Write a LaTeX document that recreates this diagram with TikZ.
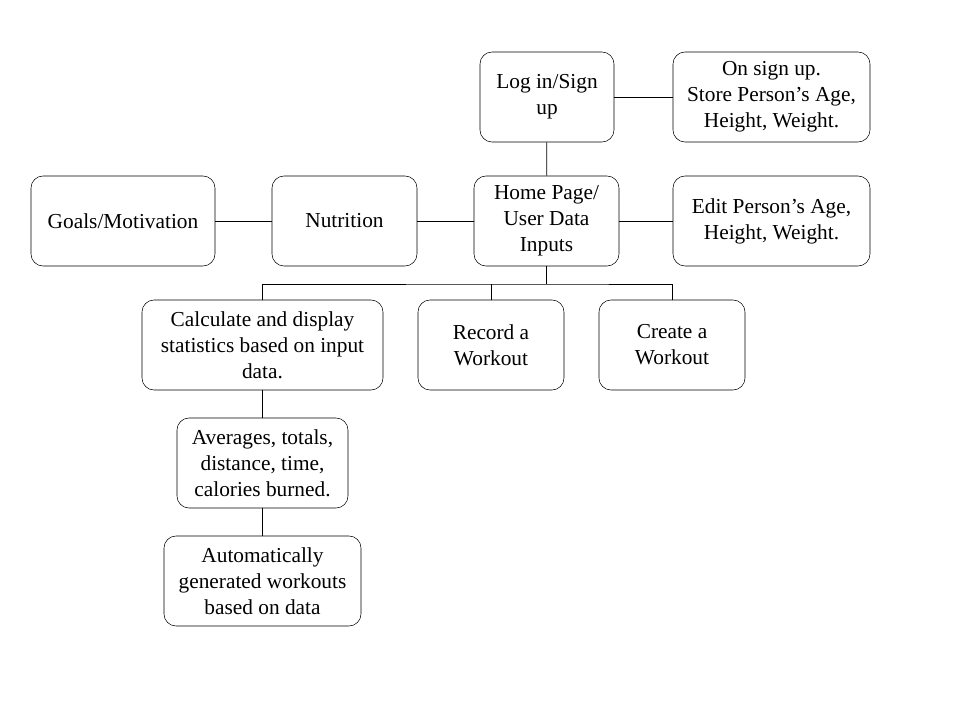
\documentclass[tikz,border=0pt]{standalone}
\usepackage{fontspec}
\setmainfont{Liberation Serif}
\tikzset{
  box/.style={draw, rounded corners=9pt, minimum height=67.5pt, align=center,
    inner sep=2pt, font=\fontsize{16}{19.5}\selectfont},
  link/.style={draw, line width=0.6pt}
}
\begin{document}
\begin{tikzpicture}[x=0.75pt,y=-0.75pt]
  \useasboundingbox (0,0) rectangle (960,720);
  % top row
  \node[box, minimum width=100.5pt] (login) at (547,97) {Log in/Sign\\up};
  \node[box, minimum width=147.75pt] (signup) at (771.5,97) {On sign up.\\Store Person’s Age,\\Height, Weight.};
  % middle row
  \node[box, minimum width=138pt] (goals) at (123,221) {Goals/Motivation};
  \node[box, minimum width=108.75pt] (nutrition) at (344.5,221) {Nutrition};
  \node[box, minimum width=108.75pt] (home) at (546.5,221) {Home Page/\\User Data\\Inputs};
  \node[box, minimum width=147.75pt] (edit) at (771.5,221) {Edit Person’s Age,\\Height, Weight.};
  % lower rows
  \node[box, minimum width=180.75pt] (calc) at (262.5,345) {Calculate and display\\statistics based on input\\data.};
  \node[box, minimum width=109.5pt] (record) at (491,345) {Record a\\Workout};
  \node[box, minimum width=109.5pt] (create) at (672,345) {Create a\\Workout};
  \node[box, minimum width=128.25pt] (stats) at (262.5,463) {Averages, totals,\\distance, time,\\calories burned.};
  \node[box, minimum width=147.75pt] (auto) at (262.5,581) {Automatically\\generated workouts\\based on data};
  % connectors
  \draw[link] (login) -- (signup);
  \draw[link] (login) -- (home);
  \draw[link] (goals) -- (nutrition);
  \draw[link] (nutrition) -- (home);
  \draw[link] (home) -- (edit);
  \coordinate (bus) at (546.5,284);
  \draw[link] (home.south) -- (bus);
  \draw[link] (calc.north) |- (bus) -| (create.north);
  \draw[link] (record.north) -- (record.north |- bus);
  \draw[link] (calc) -- (stats);
  \draw[link] (stats) -- (auto);
\end{tikzpicture}
\end{document}
